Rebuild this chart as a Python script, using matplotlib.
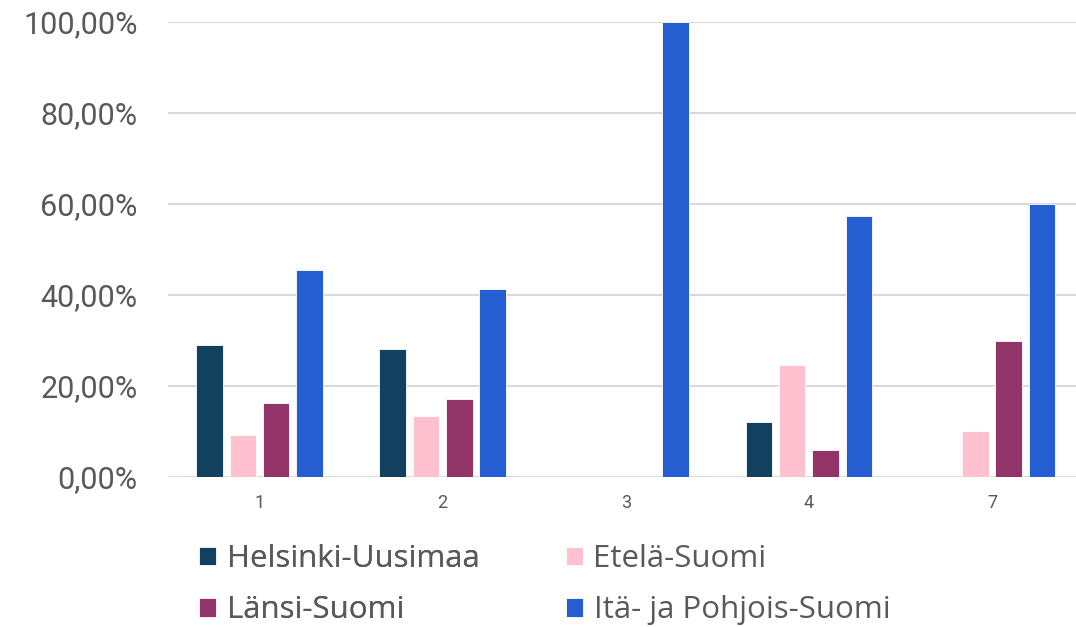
import matplotlib
matplotlib.use("Agg")
import matplotlib.pyplot as plt
import numpy as np
from matplotlib.ticker import FuncFormatter

categories = ["1", "2", "3", "4", "7"]
series_names = ["Helsinki-Uusimaa", "Etelä-Suomi", "Länsi-Suomi", "Itä- ja Pohjois-Suomi"]
helsinki = [29.1, 28.2, 0.0, 12.0, 0.0]
etela = [9.2, 13.3, 0.0, 24.7, 10.1]
lansi = [16.2, 17.1, 0.0, 5.9, 29.8]
ita = [45.5, 41.3, 100.0, 57.4, 60.1]
colors = ["#12405f", "#ffc0cf", "#923467", "#245ed1"]

plt.rcParams['font.family'] = ['Roboto', 'DejaVu Sans']
fig = plt.figure(figsize=(10.76, 6.27), dpi=100)
ax = fig.add_axes([168/1076, 1-477/627, (1076-168)/1076, (477-22)/627])

x = np.arange(len(categories))
pitch = 0.182
width = 0.145
data = [helsinki, etela, lansi, ita]
handles = []
for i, (vals, c, name) in enumerate(zip(data, colors, series_names)):
    b = ax.bar(x + (i - 1.5) * pitch, vals, width=width, color=c, label=name,
               edgecolor="white", linewidth=0.6, zorder=3)
    handles.append(b)

ax.set_ylim(0, 100)
ax.set_xlim(-0.5, 4.459)
ax.set_yticks([0, 20, 40, 60, 80, 100])
ax.yaxis.set_major_formatter(FuncFormatter(lambda v, p: f"{v:.2f}".replace(".", ",") + "%"))
ax.set_xticks(x)
ax.set_xticklabels(categories)
ax.grid(axis="y", color="#d9d9d9", linewidth=1.5, zorder=0)
for s in ax.spines.values():
    s.set_visible(False)
ax.tick_params(axis="y", length=0, labelsize=22, labelcolor="#595959", pad=22)
ax.tick_params(axis="x", length=0, labelsize=13, labelcolor="#595959", pad=12)
ax.axhline(0, color="#d9d9d9", linewidth=1.5, zorder=1)

leg_kw = dict(loc="upper left", frameon=False, labelcolor="#595959",
              prop={"family": ["Open Sans", "DejaVu Sans"], "size": 22.5},
              handlelength=0.55, handleheight=0.55, handletextpad=0.33,
              labelspacing=0.68, borderaxespad=0, borderpad=0)
leg1 = fig.legend([handles[0], handles[2]], [series_names[0], series_names[2]],
                  bbox_to_anchor=(199/1076, 1-544/627), **leg_kw)
fig.add_artist(leg1)
leg2 = fig.legend([handles[1], handles[3]], [series_names[1], series_names[3]],
                  bbox_to_anchor=(566/1076, 1-544/627), **leg_kw)

fig.savefig("out.png", dpi=100)
